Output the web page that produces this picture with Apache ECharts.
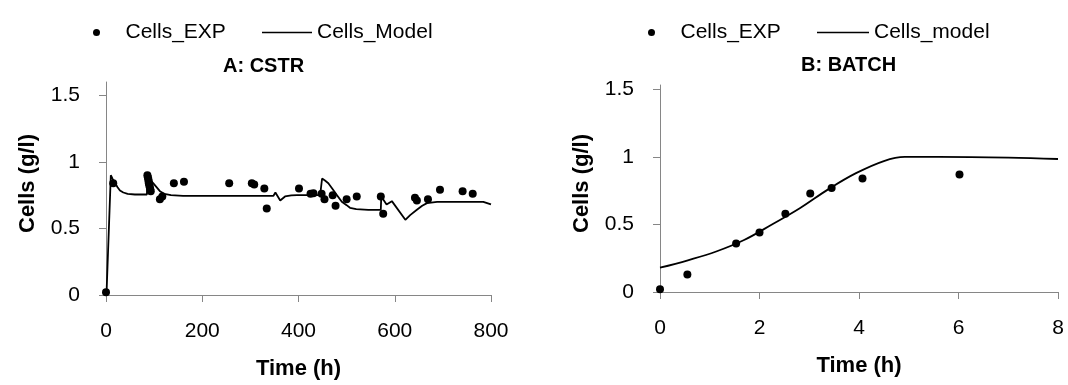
<!DOCTYPE html>
<html>
<head>
<meta charset="utf-8">
<script src="https://cdn.jsdelivr.net/npm/echarts@6/dist/echarts.min.js"></script>
<style>
html,body{margin:0;padding:0;background:#fff;}
#chart{width:1068px;height:385px;}
</style>
</head>
<body>
<div id="chart"></div>
<script>
// ---- Panel A: CSTR ----
const cstrExp = [
  [0,0.02],[15,0.84],[86,0.90],[87,0.885],[88,0.87],[88.5,0.855],[89,0.84],[90,0.825],[91,0.81],[92,0.795],[93,0.78],
  [112,0.72],[117,0.74],[141,0.84],[162,0.85],[256,0.84],[303,0.84],[308,0.83],[329,0.80],[334,0.65],
  [401,0.80],[425,0.76],[431,0.765],[448,0.76],[454,0.72],[471,0.75],[477,0.67],[500,0.72],[521,0.74],
  [571,0.74],[576,0.61],[642,0.73],[646,0.71],[669,0.72],[694,0.79],[741,0.78],[762,0.76]
];
const cstrModel = [
  [1,0],[10,0.9],[14,0.87],[19,0.84],[24,0.81],[29,0.785],[36,0.77],[45,0.76],[60,0.755],[85,0.755],
  [86.5,0.9],[92,0.87],[98,0.84],[105,0.81],[112,0.78],[121,0.76],[135,0.75],[160,0.745],[200,0.745],
  [300,0.745],[348,0.745],[352,0.77],[362,0.71],[372,0.74],[385,0.748],[397,0.75],[445,0.75],
  [449,0.875],[455,0.86],[462,0.84],[470,0.80],[480,0.75],[490,0.70],[500,0.675],[507,0.655],[520,0.645],
  [545,0.64],[571,0.64],[572,0.74],[583,0.68],[594,0.705],[622,0.565],[632,0.60],[646,0.64],[657,0.67],
  [667,0.69],[688,0.70],[784,0.70],[800,0.68]
];
const cstrXTicks = [0,200,400,600,800];
const cstrYTicks = [0,0.5,1,1.5];

// ---- Panel B: BATCH ----
const batchExp = [
  [0,0.02],[0.55,0.13],[1.53,0.36],[2.0,0.44],[2.52,0.58],[3.02,0.73],[3.45,0.77],[4.07,0.84],[6.02,0.87]
];
const batchModel = [
  [0,0.18],[0.56,0.235],[1.13,0.30],[1.69,0.385],[2.25,0.50],[2.81,0.62],[3.38,0.76],[3.94,0.88],
  [4.5,0.97],[4.92,1.0],[5.6,1.0],[7,0.995],[8,0.985]
];
const batchXTicks = [0,2,4,6,8];
const batchYTicks = [0,0.5,1,1.5];

const FONT = 'Liberation Sans';
const AX = '#868686';

function xAxisCfg(idx, min, max, interval, ticks) {
  return {
    type:'value', gridIndex: idx, min, max, interval,
    name:'Time (h)', nameLocation:'middle', nameGap:63,
    nameTextStyle:{fontFamily:FONT, fontSize:22, fontWeight:'bold', color:'#000'},
    axisLine:{show:true, lineStyle:{color:AX, width:1}},
    axisTick:{show:true, inside:false, length:7, lineStyle:{color:AX}, customValues: ticks},
    axisLabel:{fontFamily:FONT, fontSize:21, color:'#000', margin:26, customValues: ticks},
    splitLine:{show:false}
  };
}
function yAxisCfg(idx, max, ticks) {
  return {
    type:'value', gridIndex: idx, min:0, max, interval:0.5,
    name:'Cells (g/l)', nameLocation:'middle', nameGap:67,
    nameTextStyle:{fontFamily:FONT, fontSize:22, fontWeight:'bold', color:'#000', padding:[0,0,0,10]},
    axisLine:{show:true, lineStyle:{color:AX, width:1}},
    axisTick:{show:true, inside:false, length:7, lineStyle:{color:AX}, customValues: ticks},
    axisLabel:{fontFamily:FONT, fontSize:21, color:'#000', margin:26, customValues: ticks},
    splitLine:{show:false}
  };
}
function legendCfg(name, left, icon, w, h) {
  return {
    data:[{name, icon}], left, top:22, padding:0, itemWidth:w, itemHeight:h,
    itemStyle:{color:'#000'}, selectedMode:false,
    textStyle:{fontFamily:FONT, fontSize:21, color:'#000'}
  };
}

const chart = echarts.init(document.getElementById('chart'), null, {renderer:'canvas'});
chart.setOption({
  animation:false,
  backgroundColor:'#fff',
  title:[
    {text:'A: CSTR', left:223, top:56, padding:0, textStyle:{fontFamily:FONT, fontSize:20, fontWeight:'bold', color:'#000'}},
    {text:'B: BATCH', left:801, top:55, padding:0, textStyle:{fontFamily:FONT, fontSize:20, fontWeight:'bold', color:'#000'}}
  ],
  legend:[
    legendCfg('Cells_EXP', 93, 'circle', 48, 7),
    legendCfg('Cells_Model', 262, 'rect', 50, 1.5),
    legendCfg('Cells_EXP ', 648, 'circle', 48, 7),
    legendCfg('Cells_model', 817, 'rect', 52, 1.5)
  ],
  grid:[
    {left:106, right:577, top:82, bottom:90},
    {left:660, right:10, top:85, bottom:93}
  ],
  xAxis:[ xAxisCfg(0,0,800,200,cstrXTicks), xAxisCfg(1,0,8,2,batchXTicks) ],
  yAxis:[ yAxisCfg(0,1.6,cstrYTicks), yAxisCfg(1,1.533,batchYTicks) ],
  series:[
    {name:'Cells_Model', type:'line', xAxisIndex:0, yAxisIndex:0, data:cstrModel, showSymbol:false, symbol:'none',
     lineStyle:{color:'#000', width:1.8}, itemStyle:{color:'#000'}},
    {name:'Cells_EXP', type:'scatter', xAxisIndex:0, yAxisIndex:0, data:cstrExp, symbolSize:8,
     itemStyle:{color:'#000', opacity:1}},
    {name:'Cells_model', type:'line', xAxisIndex:1, yAxisIndex:1, data:batchModel, showSymbol:false, symbol:'none', smooth:0.4,
     lineStyle:{color:'#000', width:1.8}, itemStyle:{color:'#000'}},
    {name:'Cells_EXP ', type:'scatter', xAxisIndex:1, yAxisIndex:1, data:batchExp, symbolSize:8,
     itemStyle:{color:'#000', opacity:1}}
  ]
});
</script>
</body>
</html>
